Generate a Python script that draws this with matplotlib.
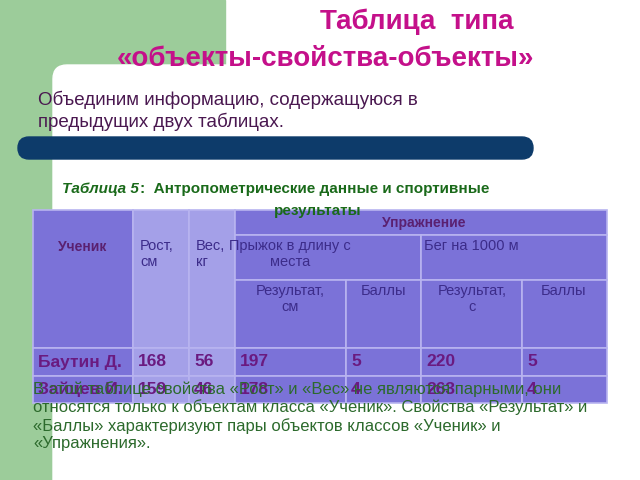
import matplotlib.pyplot as plt
from matplotlib.patches import Rectangle, FancyBboxPatch

plt.rcParams['font.family'] = ['Liberation Sans', 'DejaVu Sans']

students = ['Баутин Д.', 'Зайцев И.']
heights = [168, 159]
weights = [56, 46]
jump_result = [197, 178]
jump_score = [5, 4]
run_result = [220, 263]
run_score = [5, 4]

col_x = [33, 133, 189, 235, 346, 421, 522, 607]
row_y = [210, 235, 280, 348, 376, 403]

fig = plt.figure(figsize=(6.4, 4.8), dpi=100)
ax = fig.add_axes([0, 0, 1, 1])
ax.set_xlim(0, 640)
ax.set_ylim(480, 0)
ax.axis('off')

green = '#9ccc9a'
ax.add_patch(Rectangle((0, 0), 225, 70, color=green, zorder=0))
ax.add_patch(Rectangle((0, 0), 53, 480, color=green, zorder=0))
ax.add_patch(FancyBboxPatch((53, 65), 600, 500, boxstyle='round,pad=0,rounding_size=14',
                            color='white', zorder=0.5))
ax.add_patch(FancyBboxPatch((18, 137), 515, 22, boxstyle='round,pad=0,rounding_size=11',
                            color='#0d3b6a', zorder=1))

mag = '#c4108a'
ax.text(320, 22, 'Таблица  типа', color=mag, fontsize=20, fontweight='bold', ha='left', va='center')
ax.text(325, 59, '«объекты-свойства-объекты»', color=mag, fontsize=20, fontweight='bold', ha='center', va='center')
ax.text(38, 111, 'Объединим информацию, содержащуюся в\nпредыдущих двух таблицах.',
        color='#4a1850', fontsize=13.5, va='center', linespacing=1.3)

lc = '#b8b4f0'
base = '#7b72d8'
light = '#a4a0e8'

def cell(c0, c1, r0, r1, fc=base):
    ax.add_patch(Rectangle((col_x[c0], row_y[r0]), col_x[c1] - col_x[c0], row_y[r1] - row_y[r0],
                           facecolor=fc, edgecolor=lc, linewidth=1.2, zorder=2))

cell(0, 1, 0, 3)
cell(1, 2, 0, 3, light)
cell(2, 3, 0, 3, light)
cell(3, 7, 0, 1)
cell(3, 5, 1, 2)
cell(5, 7, 1, 2)
for c in range(3, 7):
    cell(c, c + 1, 2, 3)
for r in range(2):
    for c in range(7):
        cell(c, c + 1, 3 + r, 4 + r, light if c in (1, 2) else base)

hc = '#5a2070'
tc = '#3c2c8a'
fs = 10.5
ax.text(82, 247, 'Ученик', color=hc, fontsize=10, fontweight='bold', ha='center', va='center', zorder=3)
ax.text(140, 239, 'Рост,\nсм', color=tc, fontsize=fs, va='top', zorder=3)
ax.text(196, 239, 'Вес,\nкг', color=tc, fontsize=fs, va='top', zorder=3)
ax.text(424, 223, 'Упражнение', color=hc, fontsize=10, fontweight='bold', ha='center', va='center', zorder=3)
ax.text(290, 239, 'Прыжок в длину с\nместа', color=tc, fontsize=fs, ha='center', va='top', zorder=3)
ax.text(471, 239, 'Бег на 1000 м', color=tc, fontsize=fs, ha='center', va='top', zorder=3)
ax.text(290, 284, 'Результат,\nсм', color=tc, fontsize=fs, ha='center', va='top', zorder=3)
ax.text(383, 284, 'Баллы', color=tc, fontsize=fs, ha='center', va='top', zorder=3)
ax.text(472, 284, 'Результат,\nс', color=tc, fontsize=fs, ha='center', va='top', zorder=3)
ax.text(564, 284, 'Баллы', color=tc, fontsize=fs, ha='center', va='top', zorder=3)

vc = '#6a1a80'
for i, name in enumerate(students):
    y = (row_y[3 + i] + row_y[4 + i]) / 2
    vals = [name, heights[i], weights[i], jump_result[i], jump_score[i], run_result[i], run_score[i]]
    for c, v in enumerate(vals):
        ax.text(col_x[c] + 5, y, str(v), color=vc, fontsize=12.5, fontweight='bold', va='center', zorder=3)

gc = '#1a6a1a'
ax.text(62, 189, 'Таблица 5', color=gc, fontsize=11, fontweight='bold', style='italic', va='center', zorder=4)
ax.text(140, 189, ':  Антропометрические данные и спортивные', color=gc, fontsize=11,
        fontweight='bold', va='center', zorder=4)
ax.text(318, 211, 'результаты', color=gc, fontsize=11, fontweight='bold', ha='center', va='center', zorder=4)

ax.text(33, 381, 'В этой таблице свойства «Рост» и «Вес» не являются парными, они\n'
        'относятся только к объектам класса «Ученик». Свойства «Результат» и\n'
        '«Баллы» характеризуют пары объектов классов «Ученик» и\n«Упражнения».',
        color='#2c6a2c', fontsize=12, va='top', linespacing=1.2, zorder=4)

fig.savefig('out.png', dpi=100)
